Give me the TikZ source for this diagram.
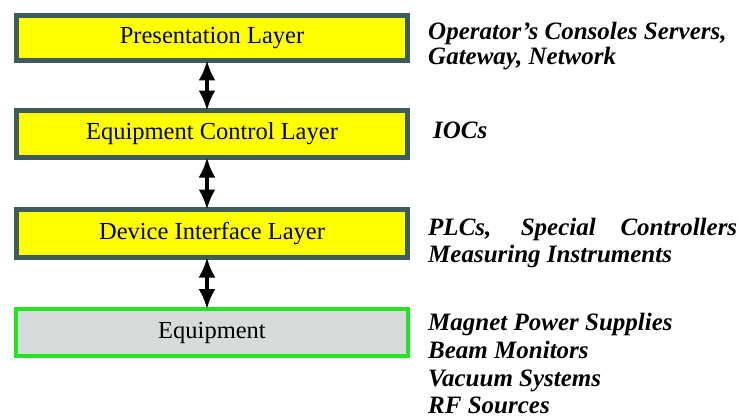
\documentclass[tikz,border=0pt]{standalone}
\usepackage{fontspec}
\setmainfont{Liberation Serif}
\usetikzlibrary{arrows.meta}
\definecolor{bordc}{HTML}{3D5C5E}
\definecolor{layery}{HTML}{FFFF00}
\definecolor{eqgreen}{HTML}{22E622}
\definecolor{eqgray}{HTML}{D8DBDB}
\begin{document}
\begin{tikzpicture}[x=1pt,y=-1pt,
  layer/.style={draw=bordc,line width=5pt,fill=layery,minimum width=391pt,inner sep=0pt,font=\fontsize{24.5}{28}\selectfont},
  equip/.style={draw=eqgreen,line width=4pt,fill=eqgray,minimum width=392pt,inner sep=0pt,font=\fontsize{24.5}{28}\selectfont},
  desc/.style={anchor=base west,inner sep=0pt,font=\fontsize{25}{28}\selectfont\bfseries\itshape},
  link/.style={line width=3.5pt,{Latex[length=20pt,width=17pt]}-{Latex[length=20pt,width=17pt]}}]
\useasboundingbox (0,0) rectangle (739,420);
\node[layer,minimum height=45pt] (b1) at (212,38) {Presentation Layer};
\node[layer,minimum height=47pt] (b2) at (212,134) {Equipment Control Layer};
\node[layer,minimum height=48pt] (b3) at (212,233.5) {Device Interface Layer};
\node[equip,minimum height=47pt] (b4) at (212,332.5) {Equipment};
\draw[link] ([xshift=-5pt,yshift=2.5pt]b1.south) -- ([xshift=-5pt,yshift=-2.5pt]b2.north);
\draw[link] ([xshift=-5pt,yshift=2.5pt]b2.south) -- ([xshift=-5pt,yshift=-2.5pt]b3.north);
\draw[link] ([xshift=-5pt,yshift=2.5pt]b3.south) -- ([xshift=-5pt,yshift=-2pt]b4.north);
\node[desc] (t1) at (428,40) {Operator’s Consoles Servers,};
\node[desc] (t2) at (428,65) {Gateway, Network};
\node[desc] (t3) at (433,138) {IOCs};
\node[desc] (t4) at (428,235) {\makebox[309pt][s]{PLCs, Special Controllers}};
\node[desc] (t5) at (428,262) {Measuring Instruments};
\node[desc] (t6) at (428,330) {Magnet Power Supplies};
\node[desc] (t7) at (428,358) {Beam Monitors};
\node[desc] (t8) at (428,386) {Vacuum Systems};
\node[desc] (t9) at (428,413) {RF Sources};
\end{tikzpicture}
\end{document}
